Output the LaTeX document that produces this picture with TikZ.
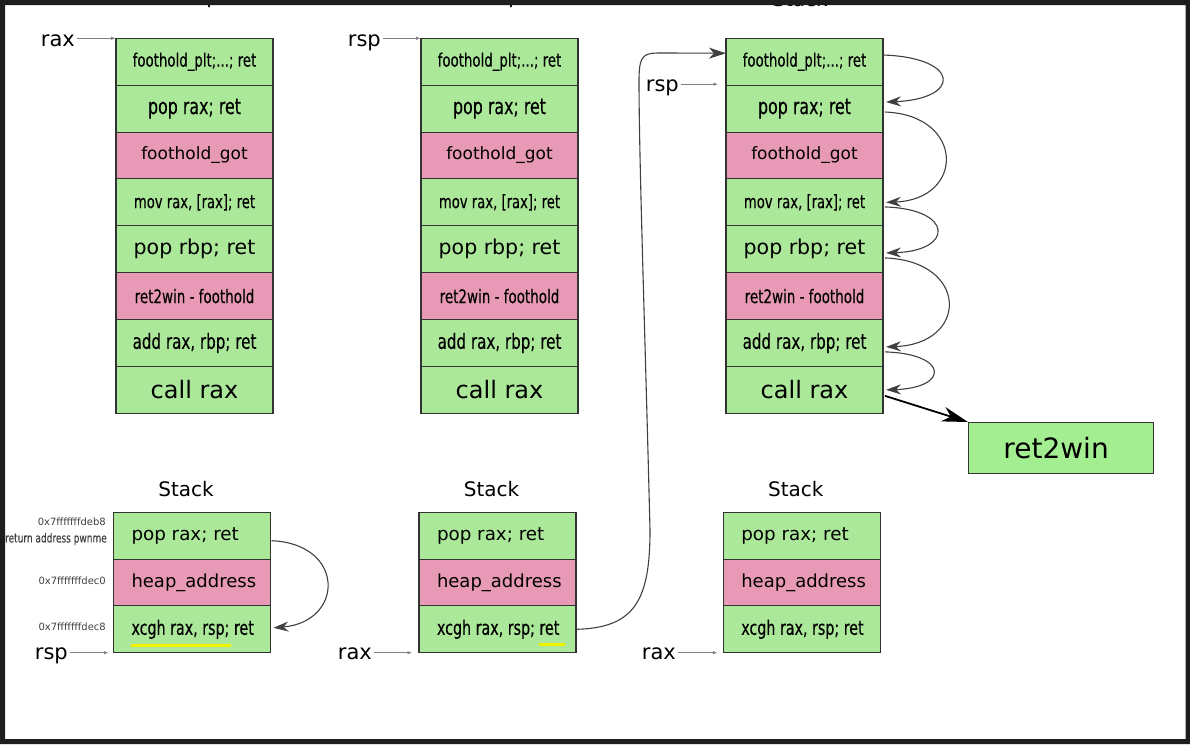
\documentclass[tikz,border=0pt]{standalone}
\usepackage{fontspec}
\setmainfont{DejaVu Sans}
\newfontfamily\cnd[FakeStretch=0.72,FakeBold=0.2]{DejaVu Sans}
\usetikzlibrary{arrows.meta,calc}
\newcommand\fsz[1]{\fontsize{#1}{#1}\selectfont}
\definecolor{gcol}{HTML}{ABE899}
\definecolor{pcol}{HTML}{E899B6}
\definecolor{wcol}{HTML}{A3EE91}
\definecolor{linec}{HTML}{333333}
\definecolor{framec}{HTML}{1E1E1E}
\definecolor{hl}{HTML}{F2F200}
\tikzset{
  cell/.style={draw=linec, line width=1.1pt, minimum width=157pt, minimum height=46.875pt, inner sep=0pt, outer sep=0pt, anchor=north west},
  gcell/.style={cell, fill=gcol},
  pcell/.style={cell, fill=pcol},
  bcell/.style={cell, minimum height=46.8pt},
  lbl/.style={font=\fsz{21}, inner sep=2pt, anchor=base east},
  addr/.style={font=\fsz{10}, text=black!75, inner sep=0pt, anchor=east},
  ttl/.style={font=\fsz{20}, inner sep=0pt, anchor=base},
  ptr/.style={draw=black!50, line width=0.8pt, -{Latex[length=4.5pt,width=3.5pt,fill=black!80]}},
  curv/.style={draw=black!75, line width=1.1pt, -{Stealth[length=15pt,width=10pt,inset=5pt]}},
  hline/.style={draw=hl, line width=2.6pt},
}
\newcommand\ltxt[1]{\hbox to 121pt{#1\hss}}
\newcommand\topstack[4]{%
  \node[gcell] (#2c1) at (#1,38.3) {\cnd\fsz{18.5}foothold\_plt;...; ret};
  \node[gcell] (#2c2) at (#2c1.south west) {\cnd\fsz{22}pop rax; ret};
  \node[pcell] (#2c3) at (#2c2.south west) {\fsz{17}foothold\_got};
  \node[gcell] (#2c4) at (#2c3.south west) {\cnd\fsz{18.3}mov rax, [rax]; ret};
  \node[gcell] (#2c5) at (#2c4.south west) {\fsz{20.5}pop rbp; ret};
  \node[pcell] (#2c6) at (#2c5.south west) {\cnd\fsz{18.7}ret2win - foothold};
  \node[gcell] (#2c7) at (#2c6.south west) {\cnd\fsz{21}add rax, rbp; ret};
  \node[gcell] (#2c8) at (#2c7.south west) {\fsz{24}call rax};
  \node[ttl] (#2t) at (#3) {#4};
}
\newcommand\botstack[2]{%
  \node[bcell, fill=gcol] (#2b1) at (#1,512.3) {\ltxt{\fsz{18.3}pop rax; ret}};
  \node[bcell, fill=pcol] (#2b2) at (#2b1.south west) {\ltxt{\fsz{18}heap\_address}};
  \node[bcell, fill=gcol] (#2b3) at (#2b2.south west) {\ltxt{\cnd\fsz{19.8}xcgh rax, rsp; ret}};
  \node[ttl] (#2s) at ($(#2b1.north)+(-6,-16)$) {Stack};
}
\begin{document}
\begin{tikzpicture}[x=1pt,y=-1pt]
\useasboundingbox (0,0) rectangle (1190,744);
\fill[white] (0,0) rectangle (1190,744);
% top stacks
\topstack{116}{L}{193,3.3}{Heap}
\topstack{421}{M}{495,3.3}{Heap}
\topstack{726}{R}{800,6.7}{Stack}
% bottom stacks
\botstack{113.5}{A}
\botstack{419}{B}
\botstack{723.3}{C}
% ret2win
\node[draw=linec, line width=1.1pt, fill=wcol, minimum width=185pt, minimum height=51pt, inner sep=0pt, anchor=north west, font=\fsz{28}] (W) at (968,422) {ret2win\hspace*{10pt}};
% address labels
\node[addr] (ad1) at (106,521.5) {0x7fffffffdeb8};
\node[addr, font=\cnd\fsz{12.5}] (ad1b) at (107,539) {return address pwnme};
\node[addr] (ad2) at (106,580.5) {0x7fffffffdec0};
\node[addr] (ad3) at (106,627) {0x7fffffffdec8};
% register labels
\node[lbl] (raxL) at (77,46) {rax};
\draw[ptr, shorten >=0.5pt] (raxL.east |- Lc1.north west) -- (Lc1.north west);
\node[lbl] (rspM) at (383,46) {rsp};
\draw[ptr, shorten >=0.5pt] (rspM.east |- Mc1.north west) -- (Mc1.north west);
\node[lbl] (rspR) at (681,91) {rsp};
\coordinate (rspRt) at ($(Rc1.south west)+(0,-1)$);
\draw[ptr, shorten >=8pt] (rspR.east |- rspRt) -- (rspRt);
\node[lbl] (rspA) at (70,659) {rsp};
\draw[ptr, shorten >=5pt] (rspA.east |- Ab3.south west) -- (Ab3.south west);
\node[lbl] (raxB) at (374,659) {rax};
\draw[ptr, shorten >=7pt] (raxB.east |- Bb3.south west) -- (Bb3.south west);
\node[lbl] (raxC) at (678,659) {rax};
\draw[ptr, shorten >=6pt] (raxC.east |- Cb3.south west) -- (Cb3.south west);
% highlights
\draw[hline] (131,645.7) -- (231,645.7);
\draw[hline] (539,644.5) -- (565,644.5);
% curved arrows
\draw[curv] ($(Ab1.east)+(1,5)$) .. controls +(74,3) and +(71,-6) .. ($(Ab3.east)+(3,-1.5)$);
\draw[curv] ($(Rc1.east)+(1,-6.7)$) .. controls +(77,3) and +(75,-3) .. ($(Rc2.east)+(3,-6.6)$);
\draw[curv] ($(Rc2.east)+(2,3.4)$) .. controls +(80,3) and +(79,-3) .. ($(Rc4.east)+(3,0)$);
\draw[curv] ($(Rc4.east)+(2,4.6)$) .. controls +(69,2) and +(68,-2) .. ($(Rc5.east)+(3,3.7)$);
\draw[curv] ($(Rc5.east)+(2,8.7)$) .. controls +(84,3) and +(83,-3) .. ($(Rc7.east)+(3,3.9)$);
\draw[curv] ($(Rc7.east)+(2,8.9)$) .. controls +(64,2) and +(63,-2) .. ($(Rc8.east)+(3,0)$);
\draw[draw=black, line width=1.8pt, -{Stealth[length=26pt,width=15pt,inset=8pt]}] ($(Rc8.east)+(2,6)$) -- (W.north west);
\coordinate (pivot) at ($(Rc1.west)+(0,-8.5)$);
\draw[curv, -{Stealth[length=17pt,width=11pt,inset=5pt]}] (Bb3.east) .. controls (635,628) and (650,600) .. (650,530)
   .. controls (645,330) and (639,160) .. (639,80) .. controls (639,52) and (645,53) .. (665,53) -- (pivot);
% frame
\fill[framec, even odd rule] (0,0) rectangle (1190,744) (5,5) rectangle (1185.5,739);
\end{tikzpicture}
\end{document}
